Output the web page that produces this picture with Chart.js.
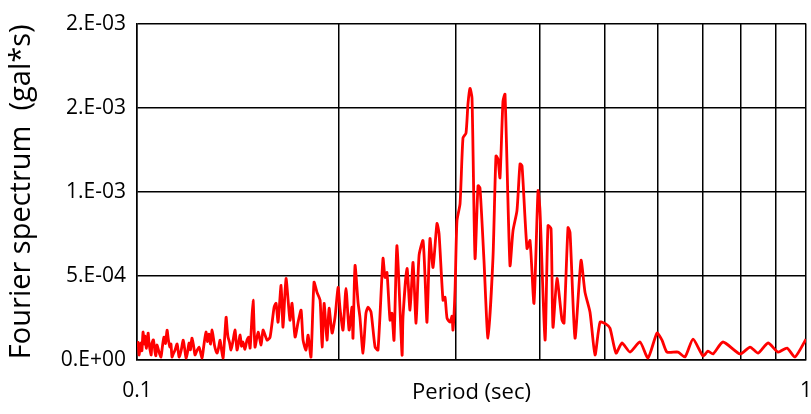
<!DOCTYPE html>
<html>
<head>
<meta charset="utf-8">
<script src="https://cdn.jsdelivr.net/npm/chart.js@4.4.1/dist/chart.umd.min.js"></script>
<style>
  html, body { margin: 0; padding: 0; background: #ffffff; }
  #wrap { width: 811px; height: 414px; position: relative; }
</style>
</head>
<body>
<div id="wrap"><canvas id="chart" width="811" height="414"></canvas></div>
<script>
// Fourier amplitude spectrum against period (log scale)
const period = [
  0.1000, 0.1004, 0.1007, 0.1010, 0.1014, 0.1017, 0.1021, 0.1025, 0.1028, 0.1033,
  0.1039, 0.1042, 0.1046, 0.1050, 0.1053, 0.1058, 0.1064, 0.1067, 0.1071, 0.1078,
  0.1086, 0.1091, 0.1097, 0.1103, 0.1109, 0.1114, 0.1120, 0.1124, 0.1128, 0.1134,
  0.1140, 0.1148, 0.1156, 0.1164, 0.1172, 0.1178, 0.1184, 0.1190, 0.1196, 0.1202,
  0.1208, 0.1215, 0.1221, 0.1229, 0.1238, 0.1244, 0.1251, 0.1259, 0.1268, 0.1274,
  0.1281, 0.1288, 0.1295, 0.1306, 0.1317, 0.1324, 0.1331, 0.1338, 0.1345, 0.1352,
  0.1359, 0.1364, 0.1368, 0.1375, 0.1382, 0.1391, 0.1401, 0.1406, 0.1411, 0.1418,
  0.1426, 0.1433, 0.1440, 0.1450, 0.1460, 0.1468, 0.1476, 0.1491,
  0.1501, 0.1517, 0.1533, 0.1543, 0.1565, 0.1581, 0.1603, 0.1614, 0.1625, 0.1642,
  0.1653, 0.1670, 0.1693, 0.1705, 0.1723, 0.1741, 0.1759, 0.1771, 0.1789, 0.1802,
  0.1820, 0.1839, 0.1858, 0.1878, 0.1891, 0.1904, 0.1923, 0.1937, 0.1957, 0.1977,
  0.1998, 0.2011, 0.2032, 0.2053, 0.2075, 0.2096, 0.2103, 0.2118, 0.2140, 0.2154,
  0.2177, 0.2199, 0.2215, 0.2238, 0.2269, 0.2292, 0.2332, 0.2348, 0.2364, 0.2389,
  0.2405, 0.2422, 0.2447, 0.2490, 0.2498, 0.2533, 0.2559, 0.2586, 0.2613, 0.2640,
  0.2676, 0.2695, 0.2713, 0.2741, 0.2770, 0.2808, 0.2828, 0.2867, 0.2887, 0.2907,
  0.2937, 0.2957, 0.2967, 0.2988, 0.3008, 0.3040, 0.3071, 0.3103, 0.3124, 0.3146,
  0.3168, 0.3201, 0.3234, 0.3256, 0.3301, 0.3347, 0.3405, 0.3440, 0.3464, 0.3488,
  0.3524, 0.3549, 0.3610, 0.3648, 0.3698, 0.3737, 0.3763, 0.3828, 0.3868, 0.3921,
  0.3976, 0.4003, 0.4073, 0.4115, 0.4158, 0.4186, 0.4244, 0.4318, 0.4348, 0.4408,
  0.4439, 0.4516, 0.4610, 0.4674, 0.4755, 0.4838, 0.4922, 0.5024, 0.5094, 0.5200,
  0.5308, 0.5457, 0.5648, 0.5805, 0.5988, 0.6092, 0.6198, 0.6437, 0.6594, 0.6778,
  0.7016, 0.7137, 0.7261, 0.7515, 0.7970, 0.8249, 0.8479, 0.8776, 0.9083, 0.9369,
  0.9629, 1.0000
];

// Amplitude in gal*s
const spectrum = [
  0.77e-4, 1.05e-4, 0.30e-4, 0.62e-4, 1.01e-4, 0.55e-4, 1.66e-4, 0.95e-4, 1.42e-4, 0.70e-4,
  1.60e-4, 1.05e-4, 0.59e-4, 0.30e-4, 1.01e-4, 1.20e-4, 0.47e-4, 0.25e-4, 0.89e-4, 0.52e-4,
  0.18e-4, 0.75e-4, 1.36e-4, 0.98e-4, 1.78e-4, 1.20e-4, 0.77e-4, 0.95e-4, 0.18e-4, 0.40e-4,
  0.59e-4, 0.95e-4, 0.18e-4, 0.55e-4, 1.18e-4, 0.70e-4, 0.12e-4, 0.46e-4, 1.01e-4, 0.60e-4,
  1.30e-4, 0.85e-4, 0.30e-4, 0.55e-4, 0.77e-4, 0.48e-4, 0.12e-4, 0.90e-4, 1.66e-4, 1.10e-4,
  1.54e-4, 0.95e-4, 1.78e-4, 0.85e-4, 0.41e-4, 0.72e-4, 1.18e-4, 0.58e-4, 0.12e-4, 1.30e-4,
  2.54e-4, 1.80e-4, 1.36e-4, 1.05e-4, 0.59e-4, 1.10e-4, 1.78e-4, 1.20e-4, 0.59e-4, 0.98e-4,
  1.48e-4, 0.82e-4, 1.07e-4, 0.64e-4, 1.18e-4, 1.35e-4, 0.71e-4, 3.55e-4,
  0.77e-4, 1.66e-4, 0.89e-4, 1.78e-4, 1.18e-4, 1.36e-4, 3.14e-4, 3.37e-4, 2.25e-4, 4.44e-4,
  1.95e-4, 4.85e-4, 2.37e-4, 3.37e-4, 1.36e-4, 2.25e-4, 2.96e-4, 1.18e-4, 0.59e-4, 1.48e-4,
  0.18e-4, 4.62e-4, 4.02e-4, 3.55e-4, 0.77e-4, 3.37e-4, 1.18e-4, 3.08e-4, 1.60e-4, 2.54e-4,
  4.32e-4, 3.08e-4, 1.78e-4, 4.26e-4, 1.78e-4, 3.14e-4, 1.30e-4, 5.62e-4, 3.43e-4, 2.54e-4,
  0.41e-4, 2.78e-4, 3.14e-4, 2.84e-4, 0.77e-4, 0.59e-4, 6.04e-4, 4.91e-4, 5.21e-4, 2.37e-4,
  2.78e-4, 1.18e-4, 6.80e-4, 0.30e-4, 2.54e-4, 5.44e-4, 2.96e-4, 5.80e-4, 2.19e-4, 6.21e-4,
  7.10e-4, 4.91e-4, 2.25e-4, 7.22e-4, 5.50e-4, 8.11e-4, 7.51e-4, 3.55e-4, 3.73e-4, 2.49e-4,
  2.25e-4, 2.60e-4, 1.78e-4, 4.14e-4, 8.28e-4, 9.29e-4, 13.20e-4, 13.49e-4, 15.21e-4, 16.15e-4,
  15.56e-4, 6.04e-4, 10.36e-4, 10.24e-4, 5.92e-4, 1.30e-4, 6.09e-4, 12.13e-4, 11.95e-4, 10.83e-4,
  15.38e-4, 15.80e-4, 5.62e-4, 7.69e-4, 8.88e-4, 11.66e-4, 11.54e-4, 6.63e-4, 7.10e-4, 3.37e-4,
  10.06e-4, 8.88e-4, 1.18e-4, 7.99e-4, 7.81e-4, 1.95e-4, 4.85e-4, 2.37e-4, 2.19e-4, 7.87e-4,
  7.57e-4, 1.30e-4, 5.92e-4, 4.02e-4, 2.84e-4, 0.30e-4, 2.25e-4, 2.13e-4, 1.89e-4, 0.41e-4,
  1.01e-4, 0.47e-4, 1.07e-4, 0.12e-4, 1.60e-4, 1.18e-4, 0.47e-4, 0.47e-4, 0.18e-4, 1.24e-4,
  0.24e-4, 0.53e-4, 0.36e-4, 1.07e-4, 0.36e-4, 0.77e-4, 0.41e-4, 1.01e-4, 0.47e-4, 0.71e-4,
  0.18e-4, 1.24e-4
];

// Vertical grid positions on the log period axis, and which of them carry a label
const periodGrid = [0.1, 0.2, 0.3, 0.4, 0.5, 0.6, 0.7, 0.8, 0.9, 1.0];
const periodLabels = ['0.1', '', '', '', '', '', '', '', '', '1'];

// Horizontal grid values and their labels (0.E+00 style)
const ampGrid = [0, 0.0005, 0.001, 0.0015, 0.002];
const ampLabels = ['0.E+00', '5.E-04', '1.E-03', '2.E-03', '2.E-03'];

const FONT = "'Open Sans', 'Liberation Sans', sans-serif";

new Chart(document.getElementById('chart'), {
  type: 'line',
  data: {
    datasets: [{
      data: period.map((p, i) => ({ x: p, y: spectrum[i] })),
      borderColor: '#ff0000',
      borderWidth: 2.8,
      pointRadius: 0,
      tension: 0.2,
      fill: false
    }]
  },
  options: {
    responsive: false,
    animation: false,
    layout: { padding: { left: 4, right: 0, top: 9, bottom: 0 } },
    plugins: { legend: { display: false }, tooltip: { enabled: false } },
    scales: {
      x: {
        type: 'logarithmic',
        min: 0.1,
        max: 1,
        afterBuildTicks: (scale) => { scale.ticks = periodGrid.map(v => ({ value: v })); },
        afterFit: (scale) => { scale.height = 54; scale.paddingRight = 5; scale.paddingLeft = 0; },
        ticks: {
          autoSkip: false,
          maxRotation: 0,
          padding: 18,
          color: '#000',
          font: { family: FONT, size: 21 },
          callback: (v, i) => periodLabels[i]
        },
        grid: { color: '#000', lineWidth: 1.5, drawTicks: false },
        border: { color: '#000', width: 1.5 },
        title: {
          display: true,
          text: 'Period (sec)',
          color: '#000',
          font: { family: FONT, size: 22 },
          padding: { top: 0, bottom: 8 }
        }
      },
      y: {
        min: 0,
        max: 0.002,
        afterBuildTicks: (scale) => { scale.ticks = ampGrid.map(v => ({ value: v })); },
        afterFit: (scale) => { scale.width = 133; },
        ticks: {
          padding: 11,
          color: '#000',
          font: { family: FONT, size: 21 },
          callback: (v, i) => ampLabels[i]
        },
        grid: { color: '#000', lineWidth: 1.5, drawTicks: false },
        border: { color: '#000', width: 1.5 },
        title: {
          display: true,
          text: 'Fourier spectrum  (gal*s)',
          color: '#000',
          font: { family: FONT, size: 29 },
          padding: { top: 0, bottom: 0 }
        }
      }
    }
  }
});
</script>
</body>
</html>
